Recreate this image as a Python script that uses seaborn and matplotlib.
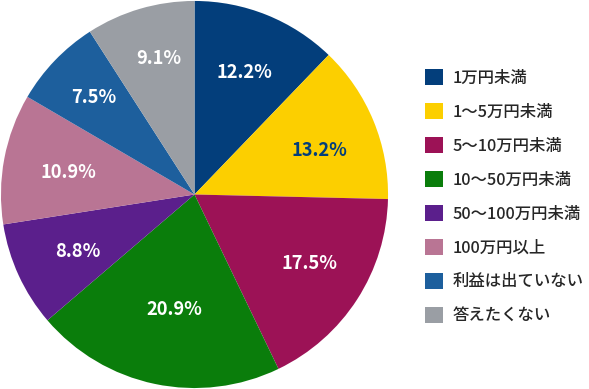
import matplotlib
matplotlib.use("Agg")
import numpy as np
import matplotlib.pyplot as plt
import seaborn as sns
from matplotlib.patches import Patch

categories = ["1万円未満", "1〜5万円未満", "5〜10万円未満", "10〜50万円未満",
              "50〜100万円未満", "100万円以上", "利益は出ていない", "答えたくない"]
values = [12.2, 13.2, 17.5, 20.9, 8.8, 10.9, 7.5, 9.1]
colors = ["#033e7b", "#fccf00", "#9c1256", "#0a7d0b", "#5b1f8c", "#b97594", "#1d5f9d", "#9a9ea4"]
label_colors = ["white", "#033e7b", "white", "white", "white", "white", "white", "white"]
# label placement style: radial distance (fraction of radius) and clockwise angle nudge (deg)
label_radius = [0.680, 0.683, 0.695, 0.605, 0.672, 0.664, 0.724, 0.729]
label_nudge = [0.3, 3.1, -1.8, -1.7, -1.5, -0.7, 0.2, 1.7]

sns.set_theme(style="white")
plt.rcParams['font.family'] = ['Noto Sans CJK JP', 'DejaVu Sans']

W, H = 589, 389
fig = plt.figure(figsize=(W / 100, H / 100), dpi=100)
ax = fig.add_axes([0.0, 0.0, 389 / W, 1.0])
wedges, texts, autotexts = ax.pie(values, colors=colors, startangle=90, counterclock=False,
                                  autopct=lambda p: f"{p:.1f}%", pctdistance=0.67,
                                  wedgeprops=dict(linewidth=0),
                                  textprops=dict(fontsize=13.2, fontweight="bold"))
for w, t, v, c, r, d in zip(wedges, autotexts, values, label_colors, label_radius, label_nudge):
    t.set_color(c)
    t.set_text(f"{v:.1f}%")
    mid = np.deg2rad((w.theta1 + w.theta2) / 2 - d)
    t.set_position((r * np.cos(mid), r * np.sin(mid)))
ax.set_aspect("equal")
ax.set_xlim(-1.005, 1.005)
ax.set_ylim(-1.005, 1.005)

FS = 11.8
fs_px = FS * 100 / 72
handles = [Patch(facecolor=c, edgecolor="none") for c in colors]

# target legend geometry (pixels from top-left)
target_left, target_top, target_step = 425.0, 69.3, 33.9


def make_legend(ls, x, y):
    return fig.legend(handles, categories, loc="upper left", bbox_to_anchor=(x / W, 1 - y / H),
                      frameon=False, handlelength=1.12, handleheight=1.12,
                      handletextpad=0.54, labelspacing=ls, borderpad=0, borderaxespad=0,
                      prop=dict(family=['Noto Sans CJK JP', 'DejaVu Sans'], size=FS, weight="medium"))


ls, x, y = 0.99, target_left, target_top
leg = make_legend(ls, x, y)
for _ in range(4):
    fig.canvas.draw()
    r = fig.canvas.get_renderer()
    ext = [h.get_window_extent(r) for h in leg.legend_handles]
    step = (ext[0].y0 - ext[-1].y0) / (len(ext) - 1)
    top = H - ext[0].y1
    left = ext[0].x0
    ls += (target_step - step) / fs_px
    x += target_left - left
    y += target_top - top
    leg.remove()
    leg = make_legend(ls, x, y)

fig.savefig("out.png", dpi=100)
